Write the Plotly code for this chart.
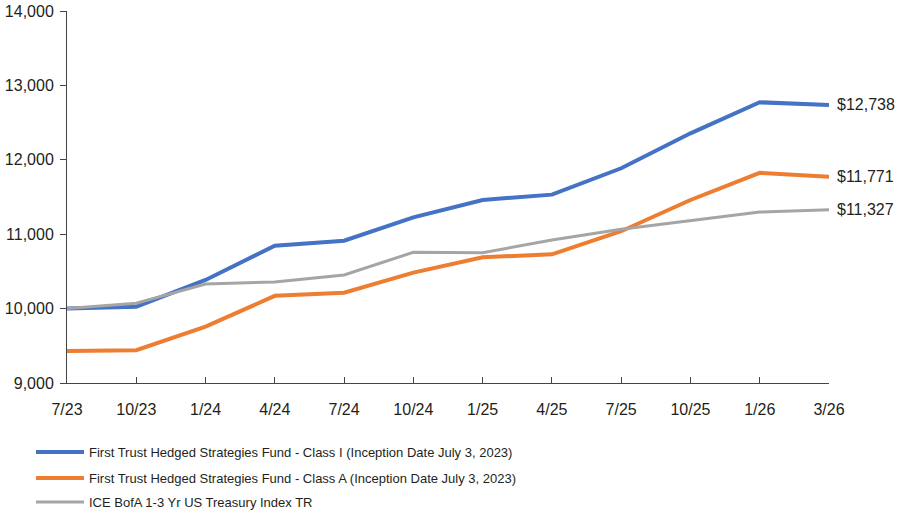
import plotly.graph_objects as go

categories = ["7/23", "10/23", "1/24", "4/24", "7/24", "10/24", "1/25", "4/25", "7/25", "10/25", "1/26", "3/26"]
class_i = [10000, 10026, 10385, 10846, 10913, 11227, 11460, 11532, 11886, 12356, 12773, 12738]
class_a = [9430, 9440, 9757, 10172, 10214, 10483, 10690, 10730, 11040, 11460, 11825, 11771]
index_tr = [10000, 10072, 10331, 10358, 10452, 10757, 10752, 10922, 11065, 11180, 11298, 11327]

names = [
    "First Trust Hedged Strategies Fund - Class I (Inception Date July 3, 2023)",
    "First Trust Hedged Strategies Fund - Class A (Inception Date July 3, 2023)",
    "ICE BofA 1-3 Yr US Treasury Index TR",
]
series = [class_i, class_a, index_tr]
colors = ["#4472C4", "#ED7D31", "#A5A5A5"]
widths = [4, 4, 3]

y_ticks = [9000, 10000, 11000, 12000, 13000, 14000]

W, H = 898, 516
ML, MR, MT, MB = 67, 69, 11, 133
PW = W - ML - MR
PH = H - MT - MB

fig = go.Figure()
for vals, name, col, w in zip(series, names, colors, widths):
    fig.add_trace(go.Scatter(
        x=categories, y=vals, mode="lines", name=name,
        line=dict(color=col, width=w), showlegend=False,
    ))

annotations = []
for vals, col in zip(series, colors):
    annotations.append(dict(
        x=categories[-1], y=vals[-1], xref="x", yref="y",
        text=f"${vals[-1]:,.0f}", showarrow=False, xanchor="left", yanchor="middle",
        xshift=6, font=dict(size=16, color="#231F20", family="Liberation Sans, Arial, sans-serif"),
    ))

shapes = []
legend_rows = [452, 478, 502]
for py, name, col, w in zip(legend_rows, names, colors, widths):
    yp = (H - MB - py) / PH
    shapes.append(dict(
        type="line", xref="paper", yref="paper",
        x0=(36 - ML) / PW, x1=(84 - ML) / PW, y0=yp, y1=yp,
        line=dict(color=col, width=w),
    ))
    annotations.append(dict(
        x=(87 - ML) / PW, y=yp, xref="paper", yref="paper",
        text=name, showarrow=False, xanchor="left", yanchor="middle",
        font=dict(size=13, color="#231F20", family="Liberation Sans, Arial, sans-serif"),
    ))

fig.update_layout(
    width=W, height=H,
    margin=dict(l=ML, r=MR, t=MT, b=MB, pad=0, autoexpand=False),
    paper_bgcolor="white", plot_bgcolor="white",
    font=dict(family="Liberation Sans, Arial, sans-serif", size=16, color="#231F20"),
    shapes=shapes, annotations=annotations,
    showlegend=False,
)
fig.update_xaxes(
    type="category", range=[0, len(categories) - 1], automargin=False,
    showline=True, linecolor="#444", linewidth=1,
    ticks="inside", ticklen=6, tickcolor="#444", tickwidth=1,
    showgrid=False, zeroline=False, ticklabelstandoff=12,
    tickfont=dict(size=16),
)
fig.update_yaxes(
    range=[9000, 14000], tickvals=y_ticks, tickformat=",", automargin=False,
    showline=True, linecolor="#444", linewidth=1,
    ticks="outside", ticklen=6, tickcolor="#444", tickwidth=1,
    showgrid=False, zeroline=False, ticklabelstandoff=3,
    tickfont=dict(size=16),
)

fig.write_html("out.html")
